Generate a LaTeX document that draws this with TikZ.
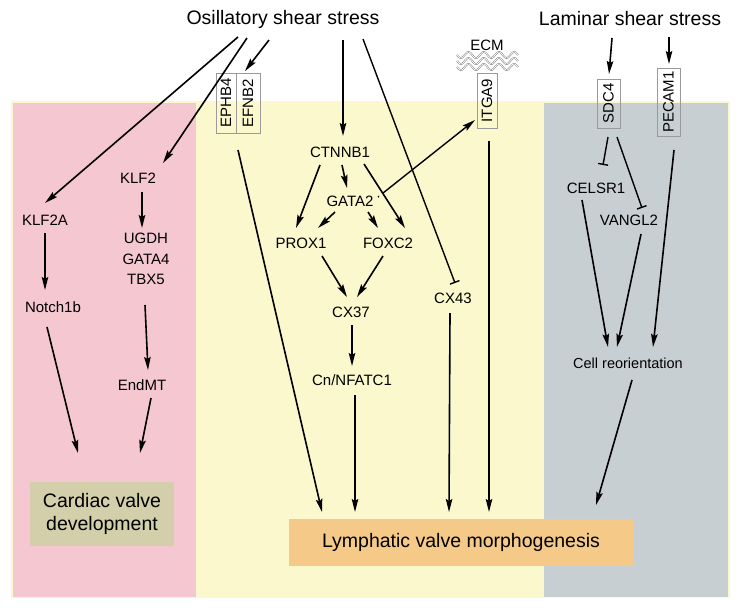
\documentclass[tikz,border=0pt]{standalone}
\usepackage{fontspec}
\setmainfont{Liberation Sans}
\usetikzlibrary{arrows.meta,calc}
\definecolor{pinkbg}{HTML}{F4C7D1}
\definecolor{yellowbg}{HTML}{FAF8CC}
\definecolor{graybg}{HTML}{C8CFD2}
\definecolor{cardbox}{HTML}{D3CFAB}
\definecolor{lymbox}{HTML}{F5CA88}
\definecolor{boxline}{HTML}{9A9A9A}
\tikzset{
  lbl/.style={font=\fontsize{15}{18}\selectfont, inner sep=1pt},
  big/.style={font=\fontsize{19.5}{23}\selectfont, inner sep=1pt},
  vbox/.style={lbl, draw=boxline, line width=0.6pt, rotate=90, inner sep=2pt},
  arr/.style={line width=1.6pt, -{Stealth[length=13pt,width=6.5pt,inset=2pt]}},
  inh/.style={line width=1.4pt, -{Bar[width=10pt,line width=1.4pt]}},
}
\begin{document}
\begin{tikzpicture}[x=1pt,y=-1pt]
\useasboundingbox (0,0) rectangle (751,614);
% panels
\fill[yellowbg] (11,101) rectangle (730,598);
\fill[pinkbg] (13,103) rectangle (196,597);
\fill[graybg] (544,103) rectangle (728,597);
% result boxes
\node[big, fill=cardbox, minimum width=144pt, minimum height=64pt, align=center] (cardiac) at (102,514) {Cardiac valve\\development};
\node[big, fill=lymbox, minimum width=344pt, minimum height=47pt] (lymph) at (461,542.5) {Lymphatic valve morphogenesis};
% top
\node[big] (osc) at (283,19) {Osillatory shear stress};
\node[big] (lam) at (630,19) {Laminar shear stress};
% left column
\node[lbl] (klf2a) at (45,220) {KLF2A};
\node[lbl] (notch) at (53,307) {Notch1b};
\node[lbl] (klf2) at (138,178) {KLF2};
\node[lbl, align=center, font=\fontsize{15}{20.5}\selectfont] (stack) at (146,259) {UGDH\\GATA4\\TBX5};
\node[lbl] (endmt) at (142,385) {EndMT};
% receptor boxes
\node[vbox, minimum width=60pt, minimum height=20pt] (ephb4) at (226,103) {EPHB4};
\node[vbox, minimum width=60pt, minimum height=24pt] (efnb2) at (248,103) {EFNB2};
\node[vbox, minimum width=55pt, minimum height=20pt] (itga9) at (487,100.5) {ITGA9};
\node[vbox, minimum width=49pt, minimum height=23pt] (sdc4) at (608.5,103.5) {SDC4};
\node[vbox, minimum width=68pt, minimum height=23pt] (pecam1) at (668.5,102) {PECAM1};
\node[lbl] (ecm) at (487,45) {ECM};
\foreach \yy in {55,61,67}{
  \draw[draw=black!60, double=white, double distance=0.8pt, line width=0.4pt, domain=0:61, samples=80, smooth]
    plot ({457+\x}, {\yy+3*sin(\x*23.6)});
}
% middle column
\node[lbl] (ctnnb1) at (340,152) {CTNNB1};
\node[lbl] (gata2) at (350,201) {GATA2};
\node[lbl] (prox1) at (301,243) {PROX1};
\node[lbl] (foxc2) at (388,243) {FOXC2};
\node[lbl] (cx37) at (351,312) {CX37};
\node[lbl] (cx43) at (453,298) {CX43};
\node[lbl] (nfatc) at (352,380) {Cn/NFATC1};
% right column
\node[lbl] (celsr1) at (596,188) {CELSR1};
\node[lbl] (vangl2) at (629,220) {VANGL2};
\node[lbl, font=\fontsize{14.5}{17}\selectfont] (cellr) at (628,363) {Cell reorientation};
% connectors from oscillatory shear stress
\draw[arr] ($(osc)+(-45,18)$) -- ($(klf2a)+(0,-17)$);
\draw[arr] ($(osc)+(-36,19)$) -- ($(klf2)+(25,-15)$);
\draw[arr] ($(osc)+(-14,21)$) -- ($(efnb2)+(-3,-32)$);
\draw[arr] ($(osc)+(60,21)$) -- ($(ctnnb1)+(3,-16)$);
\draw[inh] ($(osc)+(80,20)$) -- ($(cx43)+(2,-15)$);
% left column
\draw[arr] ($(klf2a)+(0,13)$) -- ($(notch)+(-8,-17)$);
\draw[arr] ($(klf2)+(4,14)$) -- ($(stack)+(-4,-31)$);
\draw[arr] ($(stack)+(-1,46)$) -- ($(endmt)+(6,-15)$);
\draw[arr] ($(notch)+(-6,20)$) -- ($(cardiac)+(-24,-61)$);
\draw[arr] ($(endmt)+(9,13)$) -- ($(cardiac)+(38,-61)$);
% receptor to lymphatic
\draw[arr] ($(efnb2)+(-10,47)$) -- ($(lymph)+(-139,-30.5)$);
% middle
\draw[arr] ($(ctnnb1)+(-20,13)$) -- ($(prox1)+(-5,-15)$);
\draw[arr] ($(ctnnb1)+(2,13)$) -- ($(gata2)+(-3,-13)$);
\draw[arr] ($(ctnnb1)+(24,12)$) -- ($(foxc2)+(17,-15)$);
\draw[arr] ($(gata2)+(-15,11)$) -- ($(prox1)+(17,-15)$);
\draw[arr] ($(gata2)+(18,11)$) -- ($(foxc2)+(-10,-15)$);
\draw[arr] ($(prox1)+(21,13)$) -- ($(cx37)+(-4,-15)$);
\draw[arr] ($(foxc2)+(-5,13)$) -- ($(cx37)+(6,-15)$);
\draw[arr] ($(cx37)+(1,13)$) -- ($(nfatc)+(0,-14)$);
\draw[arr] ($(nfatc)+(3,15)$) -- ($(lymph)+(-106,-30.5)$);
\draw[arr] ($(cx43)+(-3,15)$) -- ($(lymph)+(-12,-30.5)$);
\draw[arr] ($(itga9)+(2,40)$) -- ($(lymph)+(28,-30.5)$);
\draw[line width=1.4pt, dash pattern=on 1.2pt off 5pt on 300pt off 0pt, -{Stealth[length=13pt,width=6.5pt,inset=2pt]}] ($(gata2)+(28,-4)$) -- ($(itga9)+(-12,19.5)$);
% right column
\draw[arr] ($(lam)+(-18,19)$) -- ($(sdc4)+(0.5,-29.5)$);
\draw[arr] ($(lam)+(39,18)$) -- ($(pecam1)+(0.5,-38)$);
\draw[inh] ($(sdc4)+(-0.5,33.5)$) -- ($(celsr1)+(7,-23)$);
\draw[inh] ($(sdc4)+(8.5,33.5)$) -- ($(vangl2)+(13,-12)$);
\draw[arr] ($(celsr1)+(-14,12)$) -- ($(cellr)+(-20,-16)$);
\draw[arr] ($(vangl2)+(12,14)$) -- ($(cellr)+(-11,-16)$);
\draw[arr] ($(pecam1)+(5.5,48)$) -- ($(cellr)+(25,-16)$);
\draw[arr] ($(cellr)+(4,17)$) -- ($(lymph)+(135,-37.5)$);
\end{tikzpicture}
\end{document}
